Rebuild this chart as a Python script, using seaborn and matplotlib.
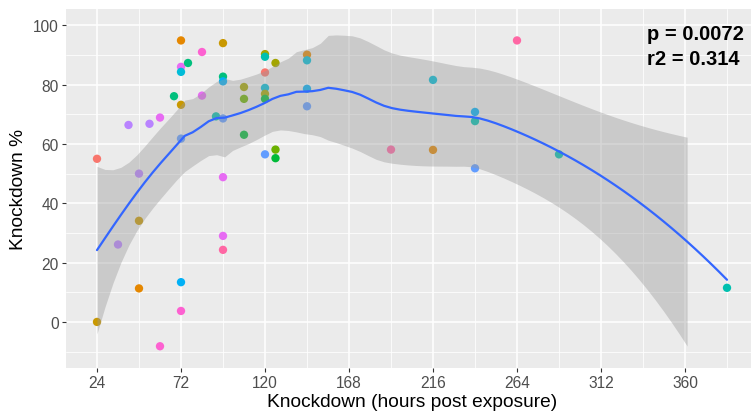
import numpy as np
import pandas as pd
import matplotlib
matplotlib.use("Agg")
import matplotlib.pyplot as plt
from matplotlib.ticker import FixedLocator
import seaborn as sns

# Knockdown observations: hours post exposure, knockdown %, and source study
hours = [24, 24, 36, 42, 48, 48, 48, 54, 60, 60,
         68, 72, 72, 72, 72, 72, 72, 72, 76, 84,
         84, 92, 96, 96, 96, 96, 96, 96, 96, 108,
         108, 108, 120, 120, 120, 120, 120, 120, 120, 126,
         126, 126, 144, 144, 144, 144, 192, 216, 216, 264,
         240, 240, 240, 288, 384]
knockdown = [55.0, 0.0, 26.1, 66.4, 50.0, 34.1, 11.3, 66.8, 68.9, -8.2,
             76.1, 94.9, 86.0, 84.3, 73.2, 61.8, 13.4, 3.7, 87.3, 91.0,
             76.3, 69.3, 94.0, 82.7, 81.1, 68.6, 48.8, 29.0, 24.3, 79.2,
             75.2, 63.1, 90.3, 89.4, 84.1, 78.9, 76.9, 75.2, 56.5, 87.3,
             58.1, 55.2, 90.1, 88.2, 78.6, 72.7, 58.1, 81.6, 58.0, 94.9,
             70.8, 67.7, 51.8, 56.5, 11.5]
study = ["A", "C", "L", "L", "L", "C", "B", "L", "M", "N",
         "G", "B", "M", "I", "C", "K", "J", "N", "G", "N",
         "M", "H", "C", "G", "J", "K", "M", "M", "O", "D",
         "E", "F", "D", "H", "A", "I", "D", "F", "K", "D",
         "E", "F", "B", "I", "J", "K", "O", "I", "B", "O",
         "J", "H", "K", "H", "H"]

study_levels = list("ABCDEFGHIJKLMNO")
hue_colors = ["#F8766D", "#E58700", "#C99800", "#A3A500", "#6BB100",
              "#00BA38", "#00BF7D", "#00C0AF", "#00BCD8", "#00B0F6",
              "#619CFF", "#B983FF", "#E76BF3", "#FD61D1", "#FF67A4"]

stat_lines = ["p = 0.0072", "r2 = 0.314"]

x_breaks = [24, 72, 120, 168, 216, 264, 312, 360]
x_minor = [48, 96, 144, 192, 240, 288, 336, 384]
y_breaks = [0, 20, 40, 60, 80, 100]
y_minor = [-10, 10, 30, 50, 70, 90]
y_limits = (-10, 100)

df = pd.DataFrame({"hours": hours, "knockdown": knockdown, "study": study})


def loess_operator(x, x_eval, span=0.75):
    """Rows of the local quadratic (tricube-weighted) smoother matrix."""
    n = len(x)
    q = int(np.floor(n * span))
    rows = []
    for xv in x_eval:
        d = np.abs(x - xv)
        h = np.sort(d)[q - 1]
        w = np.clip(1 - (d / h) ** 3, 0, None) ** 3
        X = np.column_stack([np.ones(n), x - xv, (x - xv) ** 2])
        XtW = X.T * w
        rows.append(np.linalg.solve(XtW @ X, XtW)[0])
    return np.array(rows)


def t975(dof):
    z = 1.959963985
    return (z + (z**3 + z) / (4 * dof)
            + (5 * z**5 + 16 * z**3 + 3 * z) / (96 * dof**2)
            + (3 * z**7 + 19 * z**5 + 17 * z**3 - 15 * z) / (384 * dof**3))


x = df["hours"].to_numpy(float)
y = df["knockdown"].to_numpy(float)
n = len(x)
L = loess_operator(x, x)
resid = y - L @ y
IL = np.eye(n) - L
M = IL.T @ IL
delta1 = np.trace(M)
delta2 = np.trace(M @ M)
sigma = np.sqrt(np.sum(resid**2) / delta1)
dof = delta1**2 / delta2

grid = np.linspace(x.min(), x.max(), 80)
L0 = loess_operator(x, grid)
fit = L0 @ y
se = sigma * np.sqrt(np.sum(L0**2, axis=1))
lower = fit - t975(dof) * se
upper = fit + t975(dof) * se
band_ok = (lower >= y_limits[0]) & (upper <= y_limits[1])

sns.set_theme(style="darkgrid")
plt.rcParams["font.family"] = ["Liberation Sans", "DejaVu Sans"]

fig = plt.figure(figsize=(7.51, 4.14), dpi=100)
ax = fig.add_axes([65.5 / 751, 45.1 / 414, 693 / 751, 358.9 / 414])
ax.set_facecolor("#EBEBEB")

sns.scatterplot(data=df, x="hours", y="knockdown", hue="study",
                hue_order=study_levels, palette=hue_colors, legend=False,
                s=36, linewidth=0, ax=ax, zorder=3)

ax.fill_between(grid, lower, upper, where=band_ok, interpolate=False,
                color="#999999", alpha=0.4, linewidth=0, zorder=4)
sns.lineplot(x=grid, y=fit, color="#3366FF", linewidth=1.6, ax=ax, zorder=5)

ax.set_xlim(6, 402)
ax.set_ylim(-15.5, 105.5)
ax.xaxis.set_major_locator(FixedLocator(x_breaks))
ax.xaxis.set_minor_locator(FixedLocator(x_minor))
ax.yaxis.set_major_locator(FixedLocator(y_breaks))
ax.yaxis.set_minor_locator(FixedLocator(y_minor))
ax.grid(which="major", color="white", linewidth=1.1)
ax.grid(which="minor", color="white", linewidth=0.55)
ax.set_axisbelow(True)
for sp in ax.spines.values():
    sp.set_visible(False)

ax.tick_params(which="major", length=3, width=0.8, color="#333333",
               labelsize=11.2, labelcolor="#4D4D4D", pad=2,
               bottom=True, left=True)
ax.tick_params(which="minor", length=0)

ax.set_xlabel("Knockdown (hours post exposure)", fontsize=13.8,
              color="black", labelpad=2)
ax.set_ylabel("Knockdown %", fontsize=13.8, color="black", labelpad=4)

# fit statistics, one line each, top-right of the panel
for line, yb in zip(stat_lines, [95.3, 86.8]):
    ax.text(338.5, yb, line, fontsize=14.5, fontweight="bold",
            color="black", ha="left", va="baseline", zorder=6)

fig.savefig("out.png", dpi=100)
